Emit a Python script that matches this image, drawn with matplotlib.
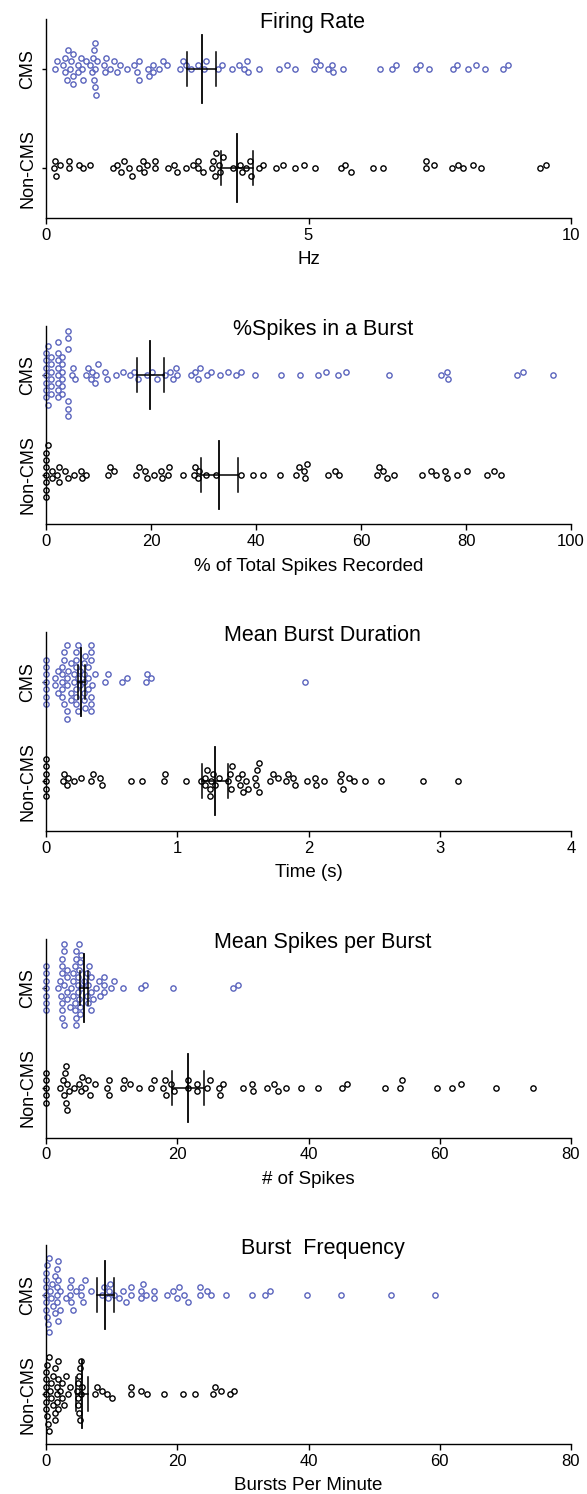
import numpy as np
import matplotlib.pyplot as plt

plt.rcParams['font.family'] = ['Liberation Sans', 'DejaVu Sans']

groups = ['Non-CMS', 'CMS']
titles = ['Firing Rate', '%Spikes in a Burst', 'Mean Burst Duration',
          'Mean Spikes per Burst', 'Burst  Frequency']
xlabels = ['Hz', '% of Total Spikes Recorded', 'Time (s)', '# of Spikes',
           'Bursts Per Minute']
xmaxes = [10, 100, 4, 80, 80]
xticks = [[0, 5, 10], [0, 20, 40, 60, 80, 100], [0, 1, 2, 3, 4],
          [0, 20, 40, 60, 80], [0, 20, 40, 60, 80]]

# firing rate (Hz)
fr_cms = [0.17, 0.21, 0.33, 0.36, 0.36, 0.40, 0.42, 0.46, 0.48, 0.52, 0.52, 0.52,
          0.61, 0.61, 0.68, 0.66, 0.70, 0.76, 0.84, 0.87, 0.90, 0.91, 0.91, 0.94,
          0.94, 0.93, 0.96, 0.98, 1.11, 1.13, 1.15, 1.21, 1.30, 1.36, 1.41, 1.55,
          1.68, 1.74, 1.78, 1.77, 1.95, 1.96, 2.04, 2.04, 2.15, 2.23, 2.31, 2.55,
          2.60, 2.67, 2.77, 2.89, 3.01, 3.05, 3.28, 3.36, 3.55, 3.68, 3.77, 3.82,
          3.84, 4.06, 4.43, 4.59, 4.75, 5.10, 5.15, 5.22, 5.37, 5.45, 5.47, 5.66,
          6.36, 6.59, 6.66, 7.04, 7.13, 7.30, 7.75, 7.82, 8.03, 8.20, 8.36, 8.70, 8.80]
fr_non = [0.15, 0.18, 0.19, 0.26, 0.43, 0.43, 0.62, 0.70, 0.84, 1.28, 1.36, 1.43,
          1.48, 1.58, 1.63, 1.78, 1.84, 1.87, 1.92, 2.07, 2.07, 2.33, 2.44, 2.49,
          2.67, 2.80, 2.89, 2.90, 2.99, 3.16, 3.19, 3.21, 3.24, 3.30, 3.32, 3.38,
          3.57, 3.69, 3.73, 3.81, 3.88, 3.91, 4.05, 4.14, 4.38, 4.51, 4.74, 4.91,
          5.13, 5.62, 5.69, 5.81, 6.22, 6.42, 7.24, 7.24, 7.39, 7.73, 7.85, 7.95,
          8.13, 8.28, 9.40, 9.53]

# % spikes in a burst
sb_cms = [0, 0, 0, 0, 0, 0, 0, 0.4, 0.4, 1.0, 1.0, 1.0, 1.0, 1.0, 1.0,
          2.3, 2.3, 2.3, 2.3, 2.3, 2.3, 2.3, 2.3, 3.0, 3.0, 3.0, 3.0, 3.0, 3.0,
          4.1, 4.1, 4.1, 4.1, 4.1, 4.1, 4.9, 5.1, 5.6, 7.6, 8.0, 8.5, 8.7, 9.3,
          9.6, 9.9, 11.3, 11.7, 13.4, 14.6, 16.0, 16.8, 17.6, 19.3, 20.1, 21.1,
          22.6, 23.7, 24.2, 24.9, 24.8, 27.6, 28.4, 28.9, 29.4, 30.6, 31.5, 33.2,
          34.7, 36.2, 37.1, 39.8, 44.8, 48.4, 51.9, 53.4, 55.6, 57.1, 65.4, 75.2,
          76.6, 76.3, 89.7, 90.9, 96.5]
sb_non = [0, 0, 0, 0, 0, 0, 0, 0.4, 1.1, 1.1, 2.1, 2.5, 2.5, 3.7, 4.1, 5.4, 6.7,
          6.8, 7.7, 11.8, 12.1, 12.9, 17.1, 17.7, 18.9, 19.3, 20.6, 21.9, 22.0,
          23.3, 23.4, 26.1, 28.2, 28.3, 28.9, 29.2, 30.4, 32.4, 37.2, 39.4, 41.4,
          44.5, 47.6, 48.2, 49.3, 49.8, 49.1, 53.8, 55.1, 55.8, 63.1, 63.4, 65.0,
          64.1, 66.2, 71.7, 73.4, 74.3, 76.3, 76.0, 78.3, 80.1, 84.0, 85.3, 86.6]

# mean burst duration (s)
bd_cms = [0, 0, 0, 0, 0, 0, 0, 0.07, 0.07, 0.09, 0.09, 0.12, 0.12, 0.12, 0.12,
          0.12, 0.14, 0.14, 0.14, 0.16, 0.16, 0.16, 0.16, 0.16, 0.17, 0.19, 0.19,
          0.19, 0.21, 0.21, 0.23, 0.23, 0.23, 0.23, 0.23, 0.23, 0.24, 0.24, 0.24,
          0.26, 0.26, 0.29, 0.29, 0.29, 0.29, 0.29, 0.30, 0.30, 0.32, 0.32, 0.32,
          0.34, 0.34, 0.34, 0.34, 0.34, 0.34, 0.35, 0.37, 0.45, 0.47, 0.58, 0.62,
          0.76, 0.77, 0.80, 1.97]
bd_non = [0, 0, 0, 0, 0, 0, 0.13, 0.14, 0.16, 0.17, 0.21, 0.27, 0.34, 0.36, 0.41,
          0.43, 0.65, 0.73, 0.90, 0.91, 1.07, 1.18, 1.21, 1.21, 1.23, 1.25, 1.26,
          1.27, 1.25, 1.29, 1.32, 1.39, 1.40, 1.41, 1.42, 1.46, 1.48, 1.49, 1.50,
          1.52, 1.54, 1.59, 1.60, 1.61, 1.62, 1.62, 1.71, 1.73, 1.77, 1.83, 1.84,
          1.88, 1.90, 1.99, 2.05, 2.06, 2.12, 2.24, 2.25, 2.26, 2.31, 2.35, 2.43,
          2.55, 2.87, 3.14]

# mean spikes per burst
sp_cms = [0, 0, 0, 0, 0, 0, 0, 1.9, 2.1, 2.3, 2.5, 2.5, 2.5, 2.5, 2.5, 2.5,
          2.8, 2.8, 2.8, 2.8, 3.2, 3.2, 3.2, 3.2, 3.6, 3.8, 4.1, 4.1, 4.1, 4.4,
          4.4, 4.4, 4.6, 4.6, 4.6, 4.6, 4.8, 4.8, 4.8, 5.0, 5.0, 5.0, 5.2, 5.2,
          5.2, 5.4, 5.4, 5.8, 6.2, 6.2, 6.4, 6.4, 6.6, 6.9, 6.9, 6.9, 7.2, 7.6,
          8.0, 8.2, 8.9, 8.9, 8.9, 9.9, 10.4, 11.8, 14.5, 15.1, 19.4, 28.5, 29.2]
sp_non = [0, 0, 0, 0, 0, 2.2, 2.7, 2.9, 3.0, 3.0, 3.2, 3.2, 2.6, 3.5, 4.3, 5.0,
          5.3, 5.5, 6.0, 6.4, 6.7, 7.4, 9.3, 9.6, 9.6, 11.9, 11.8, 12.8, 14.2,
          16.0, 16.5, 17.9, 18.2, 18.3, 19.1, 19.5, 21.6, 21.6, 23.0, 23.0, 24.5,
          25.0, 26.3, 26.5, 27.0, 30.0, 31.5, 31.4, 33.6, 34.8, 35.3, 36.5, 38.8,
          41.5, 45.1, 45.9, 51.6, 54.0, 54.3, 59.6, 61.9, 63.3, 68.6, 74.2]

# burst frequency (bursts per minute)
bf_cms = [0, 0, 0, 0, 0, 0, 0.15, 0.2, 0.3, 0.4, 0.5, 0.6, 0.8, 0.9, 1.0,
          1.3, 1.4, 1.6, 1.6, 1.6, 1.7, 1.9, 1.9, 1.9, 2.2, 2.2, 3.0, 3.7, 3.7,
          3.8, 3.8, 4.1, 4.5, 5.4, 5.4, 5.7, 5.9, 6.9, 8.5, 8.9, 9.4, 9.6, 9.8,
          10.4, 11.1, 11.8, 12.2, 13.0, 13.0, 14.4, 14.4, 14.8, 15.3, 16.4, 16.5,
          18.4, 19.4, 19.9, 20.3, 21.1, 21.6, 23.4, 23.5, 24.5, 25.2, 27.5, 31.4,
          33.4, 34.2, 39.8, 45.0, 52.5, 59.3]
bf_non = [0, 0, 0, 0, 0, 0, 0.1, 0.2, 0.3, 0.4, 0.5, 0.6, 0.7, 0.8, 1.0, 1.0,
          1.3, 1.3, 1.4, 1.6, 1.6, 1.7, 1.8, 1.8, 1.9, 2.2, 2.5, 2.5, 2.7, 3.1,
          3.4, 3.7, 4.7, 4.8, 4.9, 4.9, 5.0, 5.1, 5.2, 5.2, 5.3, 5.4, 5.5, 7.4,
          7.7, 8.6, 9.3, 10.1, 13.0, 13.0, 14.4, 15.4, 18.0, 20.8, 22.7, 25.4,
          25.7, 26.7, 28.0, 28.7]

cms_data = [fr_cms, sb_cms, bd_cms, sp_cms, bf_cms]
non_data = [fr_non, sb_non, bd_non, sp_non, bf_non]
# mean and SEM, [Non-CMS, CMS]
means = [[3.635, 2.965], [33.0, 19.9], [1.29, 0.27], [21.7, 5.8], [5.5, 9.0]]
sems = [[0.31, 0.28], [3.5, 2.65], [0.10, 0.03], [2.45, 0.65], [0.9, 1.3]]

colors = ['black', '#5a64bd']
title_x = [0.508, 0.527, 0.527, 0.527, 0.527]


def swarm_offsets(values, px_x, px_y, step=3.7, same_dx=10.0, adj_dx=3.5):
    # rows every `step` px; a row needs same_dx of room, the rows next to it adj_dx
    values = np.asarray(values, dtype=float)
    order = np.argsort(values, kind='stable')
    placed = []
    offs = np.zeros(len(values))
    cands = [0]
    for j in range(1, 120):
        cands += [j, -j]
    for i in order:
        x = values[i] * px_x
        for r in cands:
            ok = True
            for px, pr in placed:
                dr = abs(r - pr)
                dx = abs(x - px)
                if (dr == 0 and dx < same_dx) or (dr == 1 and dx < adj_dx):
                    ok = False
                    break
            if ok:
                break
        placed.append((x, r))
        offs[i] = r * step / px_y
    return offs


W, H = 587, 1494
fig = plt.figure(figsize=(W / 100, H / 100), dpi=100)

left, right = 46, 571
ax_h = 199

for k in range(5):
    bottom_px = 218 + 306.5 * k
    ax = fig.add_axes([left / W, 1 - bottom_px / H, (right - left) / W, ax_h / H])
    px_x = (right - left) / xmaxes[k]
    px_y = ax_h / 2.0
    for pos, vals in enumerate([non_data[k], cms_data[k]]):
        offs = swarm_offsets(vals, px_x, px_y)
        ax.plot(vals, pos + offs, 'o', ls='none', mfc='none', mec=colors[pos],
                ms=3.8, mew=1.0, clip_on=False, zorder=2)
        m, s = means[k][pos], sems[k][pos]
        ax.plot([m, m], [pos - 0.34, pos + 0.34], color='black', lw=1.3, zorder=3)
        ax.plot([m - s, m + s], [pos, pos], color='black', lw=1.1, zorder=3)
        ax.plot([m - s, m - s], [pos - 0.17, pos + 0.17], color='black', lw=1.1, zorder=3)
        ax.plot([m + s, m + s], [pos - 0.17, pos + 0.17], color='black', lw=1.1, zorder=3)

    ax.set_xlim(0, xmaxes[k])
    ax.set_ylim(-0.5, 1.5)
    ax.set_xticks(xticks[k])
    ax.set_yticks([0, 1])
    ax.set_yticklabels(groups, rotation=90, va='center', fontsize=13)
    ax.tick_params(axis='x', length=4, width=1, pad=3, labelsize=12)
    ax.tick_params(axis='y', length=3, width=1, pad=4)
    for sp in ['top', 'right']:
        ax.spines[sp].set_visible(False)
    for sp in ['left', 'bottom']:
        ax.spines[sp].set_linewidth(1.0)
    ax.set_xlabel(xlabels[k], fontsize=13.5, labelpad=6)
    ax.text(title_x[k], 1 - 9 / ax_h, titles[k], transform=ax.transAxes,
            ha='center', va='baseline', fontsize=15.5)

fig.savefig('out.png', dpi=100)
